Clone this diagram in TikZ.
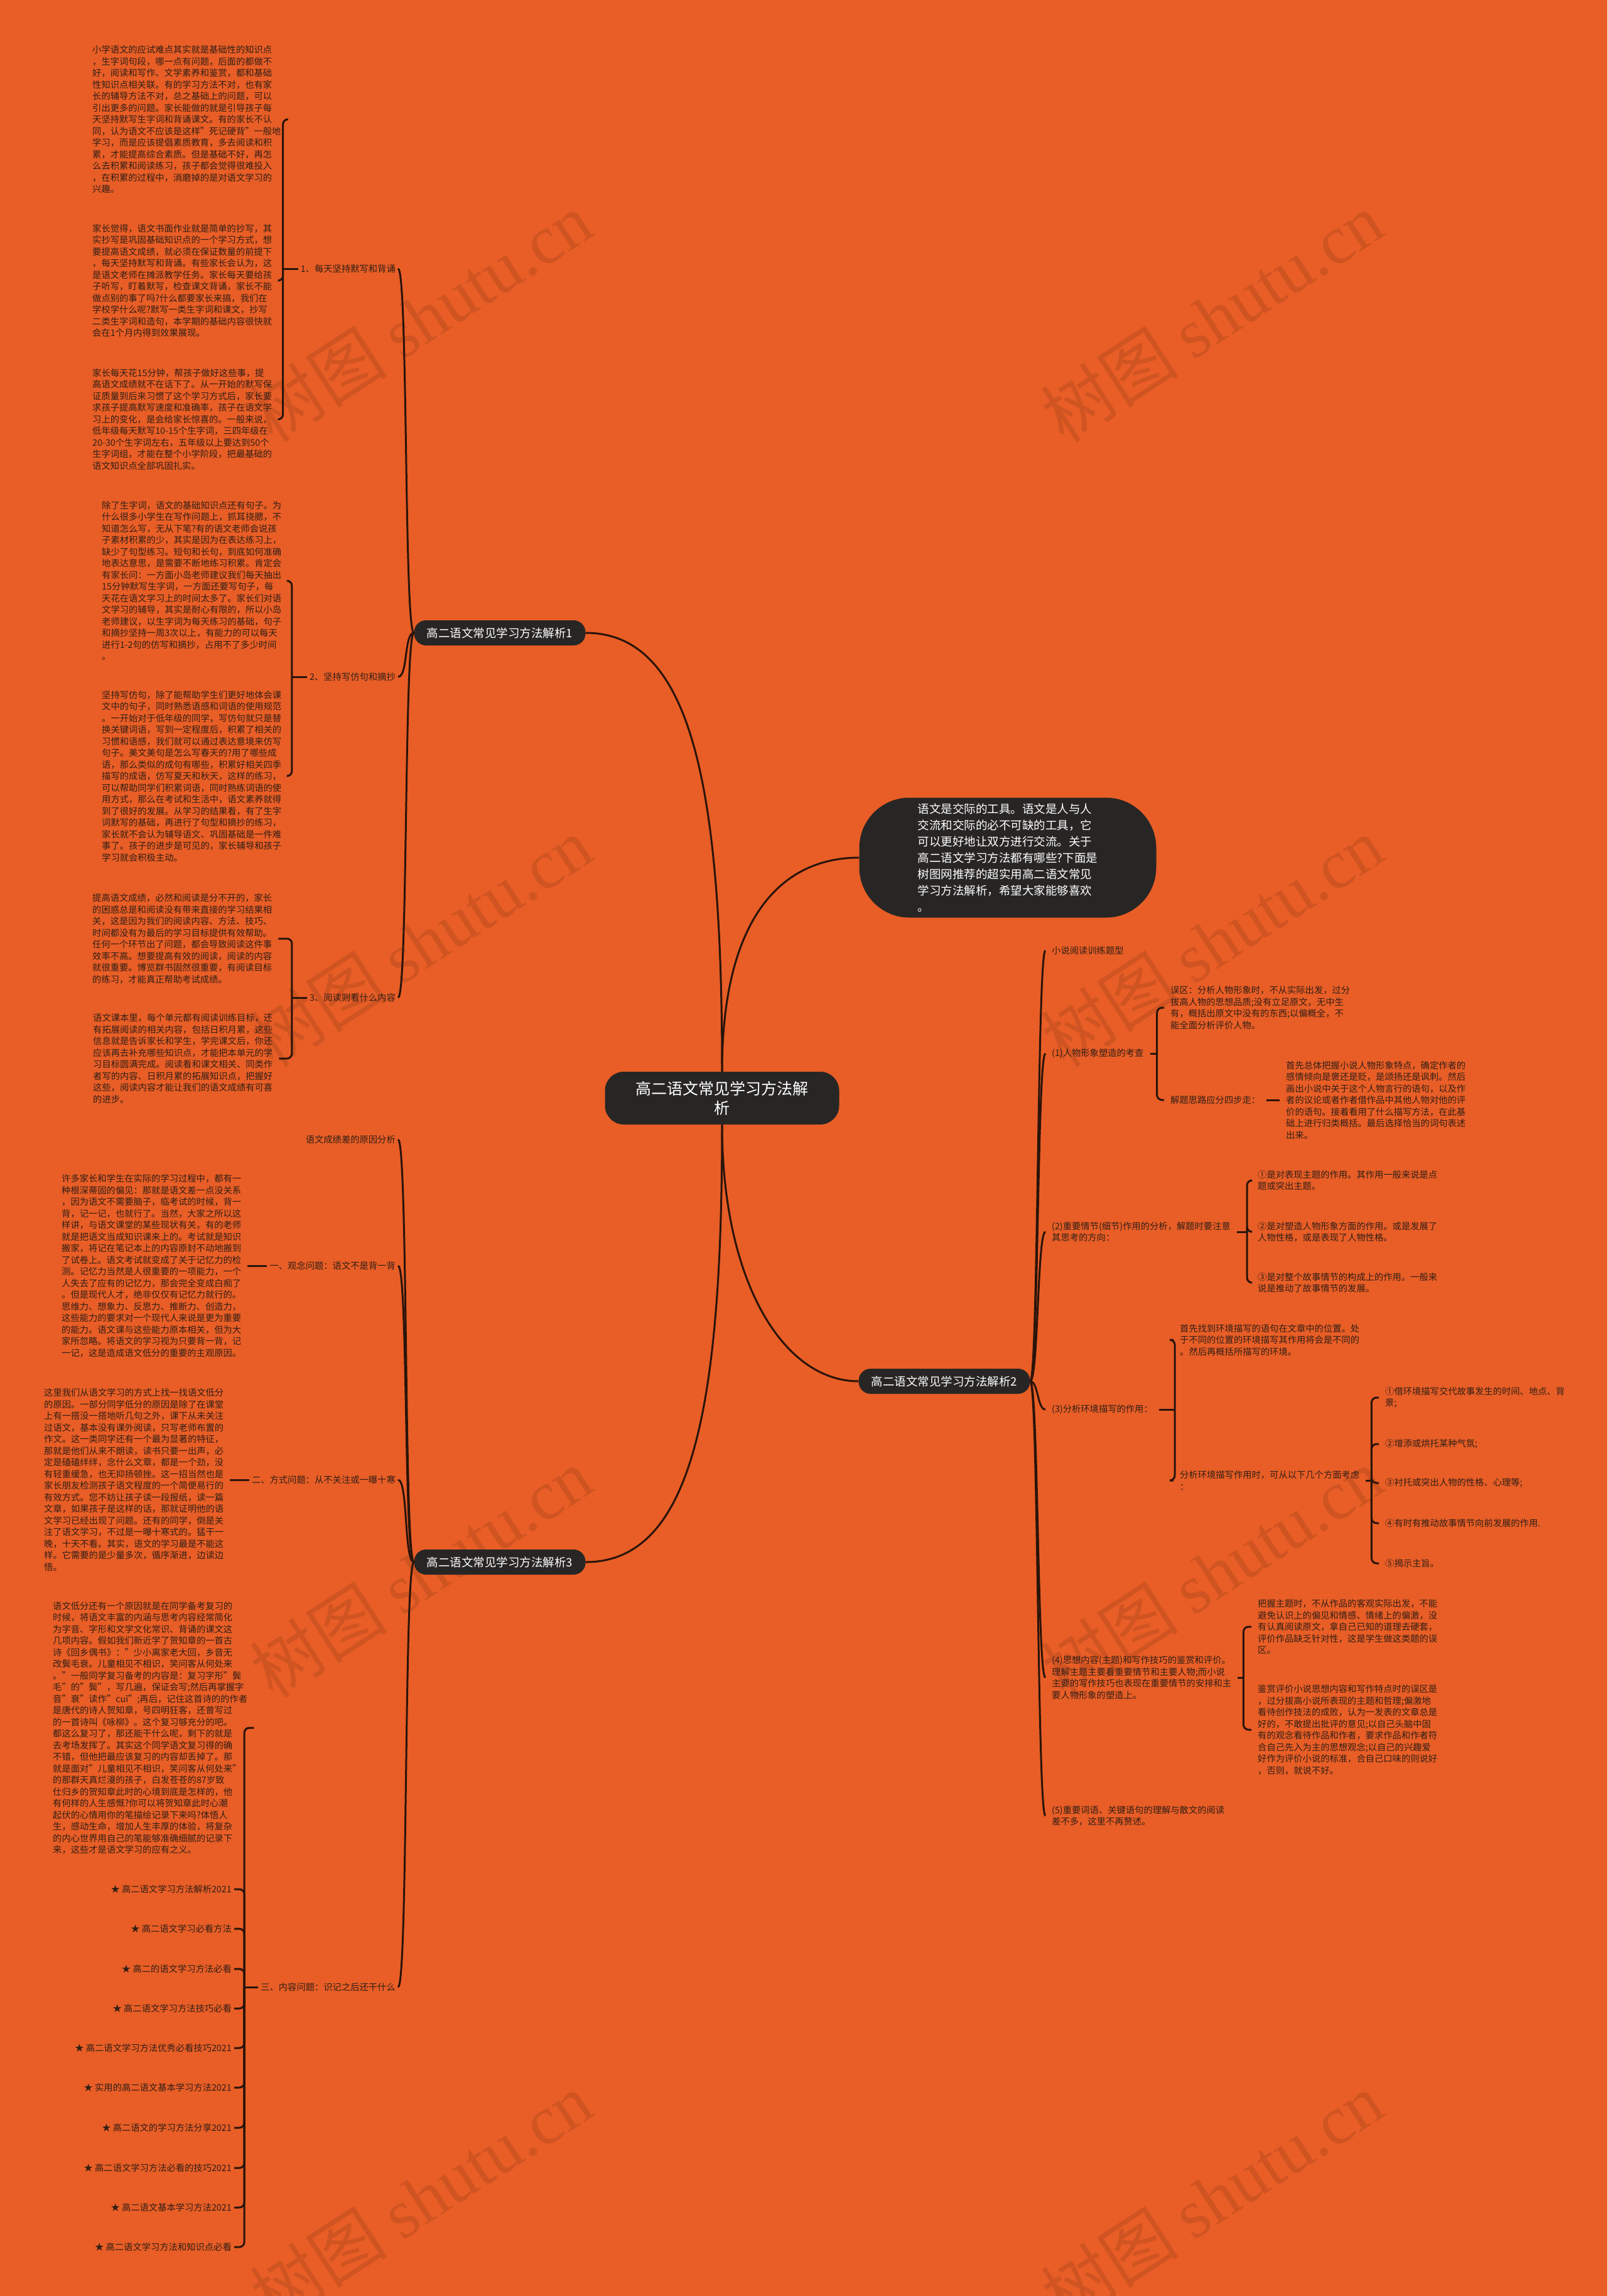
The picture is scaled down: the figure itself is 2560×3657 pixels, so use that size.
\documentclass[tikz,border=0pt]{standalone}
\usepackage{fontspec}
\setmainfont{Noto Sans CJK SC}
\newfontfamily\wmfont{Liberation Serif}
\definecolor{bgorange}{RGB}{232,94,38}
\definecolor{ink}{RGB}{50,30,22}
\definecolor{wire}{RGB}{42,20,10}
\definecolor{pillfill}{RGB}{40,38,37}
\newcommand{\txtfont}{\fontsize{14.3pt}{18.5pt}\selectfont}

\begin{document}
\begin{tikzpicture}[x=1pt, y=-1pt,
    para/.style={anchor=west, align=left, inner xsep=10pt, inner ysep=1pt, text=ink, font=\txtfont},
    tagl/.style={anchor=east, inner xsep=4pt, inner ysep=1pt, text=ink, font=\txtfont},
    pill/.style={fill=pillfill, text=white, rounded corners=19pt, minimum width=273pt, minimum height=40pt, inner sep=0pt, font=\fontsize{18.5pt}{22pt}\selectfont},
    link/.style={draw=wire, line width=3pt},
    brk/.style={draw=wire, line width=3pt, rounded corners=8pt}]
\useasboundingbox (0,0) rectangle (2560,3657);
\fill[bgorange] (0,0) rectangle (2560,3657);
\foreach \wx/\wy [count=\k] in {670/505,1930/505,670/1500,1930/1500,670/2505,1930/2505,670/3500,1930/3500}
    \node[rotate=33, text=black, text opacity=0.1, font=\fontsize{110pt}{110pt}\selectfont] (wm\k) at (\wx,\wy) {树图 {\wmfont shutu.cn}};

\node[pill, rounded corners=30pt, minimum width=373pt, minimum height=84pt, align=center, font=\fontsize{25pt}{31pt}\selectfont] (root) at (1150,1749) {高二语文常见学习方法解\\析};
\node[pill, rounded corners=80pt, minimum width=473pt, minimum height=191pt, align=left, font=\fontsize{18.5pt}{26pt}\selectfont] (intro) at (1605,1366) {语文是交际的工具。语文是人与人\\交流和交际的必不可缺的工具，它\\可以更好地让双方进行交流。关于\\高二语文学习方法都有哪些?下面是\\树图网推荐的超实用高二语文常见\\学习方法解析，希望大家能够喜欢\\。};
\node[pill] (sec1) at (796,1008) {高二语文常见学习方法解析1};
\node[pill] (sec2) at (1504,2200) {高二语文常见学习方法解析2};
\node[pill] (sec3) at (796,2488) {高二语文常见学习方法解析3};
\draw[link] (root.north) .. controls +(0,-450) and +(170,0) .. (sec1.east);
\draw[link] (root.north) .. controls +(0,-250) and +(-120,0) .. (intro.west);
\draw[link] (root.south) .. controls +(0,250) and +(-120,0) .. (sec2.west);
\draw[link] (root.south) .. controls +(0,450) and +(170,0) .. (sec3.east);

\node[tagl] (tip1) at (634,428) {1、每天坚持默写和背诵};
\node[tagl] (tip2) at (634,1078) {2、坚持写仿句和摘抄};
\node[tagl] (tip3) at (634,1589) {3、阅读则看什么内容};
\foreach \n in {tip1,tip2,tip3}
    \draw[link] (sec1.west) .. controls +(-16,0) and +(16,0) .. (\n.east);

\node[para] (p1) at (137,190) {小学语文的应试难点其实就是基础性的知识点\\，生字词句段，哪一点有问题，后面的都做不\\好，阅读和写作、文学素养和鉴赏，都和基础\\性知识点相关联。有的学习方法不对，也有家\\长的辅导方法不对，总之基础上的问题，可以\\引出更多的问题。家长能做的就是引导孩子每\\天坚持默写生字词和背诵课文。有的家长不认\\同，认为语文不应该是这样"死记硬背"一般地\\学习，而是应该提倡素质教育，多去阅读和积\\累，才能提高综合素质。但是基础不好，再怎\\么去积累和阅读练习，孩子都会觉得很难投入\\，在积累的过程中，消磨掉的是对语文学习的\\兴趣。};
\node[para] (p2) at (137,447) {家长觉得，语文书面作业就是简单的抄写，其\\实抄写是巩固基础知识点的一个学习方式，想\\要提高语文成绩，就必须在保证数量的前提下\\，每天坚持默写和背诵。有些家长会认为，这\\是语文老师在摊派教学任务。家长每天要给孩\\子听写，盯着默写，检查课文背诵，家长不能\\做点别的事了吗?什么都要家长来搞，我们在\\学校学什么呢?默写一类生字词和课文，抄写\\二类生字词和造句，本学期的基础内容很快就\\会在1个月内得到效果展现。};
\node[para] (p3) at (137,668) {家长每天花15分钟，帮孩子做好这些事，提\\高语文成绩就不在话下了。从一开始的默写保\\证质量到后来习惯了这个学习方式后，家长要\\求孩子提高默写速度和准确率，孩子在语文学\\习上的变化，是会给家长惊喜的。一般来说，\\低年级每天默写10-15个生字词，三四年级在\\20-30个生字词左右，五年级以上要达到50个\\生字词组，才能在整个小学阶段，把最基础的\\语文知识点全部巩固扎实。};
\node[para] (p4) at (152,925) {除了生字词，语文的基础知识点还有句子。为\\什么很多小学生在写作问题上，抓耳挠腮，不\\知道怎么写，无从下笔?有的语文老师会说孩\\子素材积累的少，其实是因为在表达练习上，\\缺少了句型练习。短句和长句，到底如何准确\\地表达意思，是需要不断地练习积累。肯定会\\有家长问：一方面小岛老师建议我们每天抽出\\15分钟默写生字词，一方面还要写句子，每\\天花在语文学习上的时间太多了。家长们对语\\文学习的辅导，其实是耐心有限的，所以小岛\\老师建议，以生字词为每天练习的基础，句子\\和摘抄坚持一周3次以上，有能力的可以每天\\进行1-2句的仿写和摘抄，占用不了多少时间\\。};
\node[para] (p5) at (152,1236) {坚持写仿句，除了能帮助学生们更好地体会课\\文中的句子，同时熟悉语感和词语的使用规范\\。一开始对于低年级的同学，写仿句就只是替\\换关键词语，写到一定程度后，积累了相关的\\习惯和语感，我们就可以通过表达意境来仿写\\句子。美文美句是怎么写春天的?用了哪些成\\语，那么类似的成句有哪些，积累好相关四季\\描写的成语，仿写夏天和秋天，这样的练习，\\可以帮助同学们积累词语，同时熟练词语的使\\用方式，那么在考试和生活中，语文素养就得\\到了很好的发展。从学习的结果看，有了生字\\词默写的基础，再进行了句型和摘抄的练习，\\家长就不会认为辅导语文、巩固基础是一件难\\事了。孩子的进步是可见的，家长辅导和孩子\\学习就会积极主动。};
\node[para] (p6) at (137,1495) {提高语文成绩，必然和阅读是分不开的，家长\\的困惑总是和阅读没有带来直接的学习结果相\\关，这是因为我们的阅读内容、方法、技巧、\\时间都没有为最后的学习目标提供有效帮助。\\任何一个环节出了问题，都会导致阅读这件事\\效率不高。想要提高有效的阅读，阅读的内容\\就很重要。博览群书固然很重要，有阅读目标\\的练习，才能真正帮助考试成绩。};
\node[para] (p7) at (138,1686) {语文课本里，每个单元都有阅读训练目标，还\\有拓展阅读的相关内容，包括日积月累，这些\\信息就是告诉家长和学生，学完课文后，你还\\应该再去补充哪些知识点，才能把本单元的学\\习目标圆满完成。阅读看和课文相关、同类作\\者写的内容、日积月累的拓展知识点，把握好\\这些，阅读内容才能让我们的语文成绩有可喜\\的进步。};
\draw[brk] (tip1.west) -- ++(-24,0);
\draw[brk] (tip2.west) -- ++(-24,0);
\draw[brk] (tip3.west) -- ++(-24,0);
\foreach \n in {p1,p2,p3}
    \draw[brk] ([xshift=-24pt]tip1.west) |- (\n.east);
\foreach \n in {p4,p5}
    \draw[brk] ([xshift=-24pt]tip2.west) |- (\n.east);
\foreach \n in {p6,p7}
    \draw[brk] ([xshift=-24pt]tip3.west) |- (\n.east);

\node[tagl] (why0) at (634,1815) {语文成绩差的原因分析};
\node[tagl] (why1) at (634,2016) {一、观念问题：语文不是背一背};
\node[tagl] (why2) at (634,2357) {二、方式问题：从不关注或一曝十寒};
\node[tagl] (why3) at (634,3165) {三、内容问题：识记之后还干什么};
\foreach \n in {why0,why1,why2,why3}
    \draw[link] (sec3.west) .. controls +(-16,0) and +(16,0) .. (\n.east);

\node[para] (p8) at (88,2016) {许多家长和学生在实际的学习过程中，都有一\\种根深蒂固的偏见：那就是语文差一点没关系\\，因为语文不需要脑子，临考试的时候，背一\\背，记一记，也就行了。当然，大家之所以这\\样讲，与语文课堂的某些现状有关，有的老师\\就是把语文当成知识课来上的。考试就是知识\\搬家，将记在笔记本上的内容原封不动地搬到\\了试卷上。语文考试就变成了关于记忆力的检\\测。记忆力当然是人很重要的一项能力，一个\\人失去了应有的记忆力，那会完全变成白痴了\\。但是现代人才，绝非仅仅有记忆力就行的。\\思维力、想象力、反思力、推断力、创造力，\\这些能力的要求对一个现代人来说是更为重要\\的能力。语文课与这些能力原本相关，但为大\\家所忽略。将语文的学习视为只要背一背，记\\一记，这是造成语文低分的重要的主观原因。};
\node[para] (p9) at (60,2357) {这里我们从语文学习的方式上找一找语文低分\\的原因。一部分同学低分的原因是除了在课堂\\上有一搭没一搭地听几句之外，课下从未关注\\过语文，基本没有课外阅读，只写老师布置的\\作文。这一类同学还有一个最为显著的特征，\\那就是他们从来不朗读，读书只要一出声，必\\定是磕磕绊绊，念什么文章，都是一个劲，没\\有轻重缓急，也无抑扬顿挫。这一招当然也是\\家长朋友检测孩子语文程度的一个简便易行的\\有效方式。您不妨让孩子读一段报纸，读一篇\\文章，如果孩子是这样的话，那就证明他的语\\文学习已经出现了问题。还有的同学，倒是关\\注了语文学习，不过是一曝十寒式的。猛干一\\晚，十天不看。其实，语文的学习最是不能这\\样。它需要的是少量多次，循序渐进，边读边\\悟。};
\node[para] (p10) at (74,2752) {语文低分还有一个原因就是在同学备考复习的\\时候，将语文丰富的内涵与思考内容经常简化\\为字音、字形和文学文化常识、背诵的课文这\\几项内容。假如我们新近学了贺知章的一首古\\诗《回乡偶书》："少小离家老大回，乡音无\\改鬓毛衰。儿童相见不相识，笑问客从何处来\\。"一般同学复习备考的内容是：复习字形"鬓\\毛"的"鬓"，写几遍，保证会写;然后再掌握字\\音"衰"读作"cuī";再后，记住这首诗的的作者\\是唐代的诗人贺知章，号四明狂客，还曾写过\\的一首诗叫《咏柳》。这个复习够充分的吧。\\都这么复习了，那还能干什么呢，剩下的就是\\去考场发挥了。其实这个同学语文复习得的确\\不错，但他把最应该复习的内容却丢掉了。那\\就是面对"儿童相见不相识，笑问客从何处来"\\的那群天真烂漫的孩子，白发苍苍的87岁致\\仕归乡的贺知章此时的心境到底是怎样的，他\\有何样的人生感慨?你可以将贺知章此时心潮\\起伏的心情用你的笔描绘记录下来吗?体悟人\\生，感动生命，增加人生丰厚的体验，将复杂\\的内心世界用自己的笔能够准确细腻的记录下\\来，这些才是语文学习的应有之义。};
\draw[link] (p8.east) -- (why1.west);
\draw[link] (p9.east) -- (why2.west);
\draw[brk] (why3.west) -- ++(-22,0);
\draw[brk] ([xshift=-22pt]why3.west) |- (p10.east);
\foreach \i/\y/\lab in {1/3009/★ 高二语文学习方法解析2021, 2/3072/★ 高二语文学习必看方法, 3/3136/★ 高二的语文学习方法必看, 4/3199/★ 高二语文学习方法技巧必看, 5/3262/★ 高二语文学习方法优秀必看技巧2021, 6/3325/★ 实用的高二语文基本学习方法2021, 7/3389/★ 高二语文的学习方法分享2021, 8/3453/★ 高二语文学习方法必看的技巧2021, 9/3516/★ 高二语文基本学习方法2021, 10/3579/★ 高二语文学习方法和知识点必看} {
    \node[tagl] (art\i) at (373,\y) {\lab};
    \draw[brk] ([xshift=-22pt]why3.west) |- (art\i.east);
}

\node[para] (r0) at (1665,1514) {小说阅读训练题型};
\node[para] (r1) at (1665,1678) {(1)人物形象塑造的考查};
\node[para] (r2) at (1665,1962) {(2)重要情节(细节)作用的分析，解题时要注意\\其思考的方向：};
\node[para] (r3) at (1665,2245) {(3)分析环境描写的作用：};
\node[para] (r4) at (1665,2672) {(4)思想内容(主题)和写作技巧的鉴赏和评价。\\理解主题主要看重要情节和主要人物;而小说\\主要的写作技巧也表现在重要情节的安排和主\\要人物形象的塑造上。};
\node[para] (r5) at (1665,2892) {(5)重要词语、关键语句的理解与散文的阅读\\差不多，这里不再赘述。};
\foreach \n in {r0,r1,r2,r3,r4,r5}
    \draw[link] (sec2.east) .. controls +(13,0) and +(-13,0) .. (\n.west);

\node[para] (r1a) at (1854,1605) {误区：分析人物形象时，不从实际出发，过分\\拔高人物的思想品质;没有立足原文，无中生\\有，概括出原文中没有的东西;以偏概全，不\\能全面分析评价人物。};
\node[para] (r1b) at (1854,1752) {解题思路应分四步走：};
\node[para] (r1c) at (2038,1752) {首先总体把握小说人物形象特点，确定作者的\\感情倾向是褒还是贬，是颂扬还是讽刺。然后\\画出小说中关于这个人物言行的语句，以及作\\者的议论或者作者借作品中其他人物对他的评\\价的语句。接着看用了什么描写方法，在此基\\础上进行归类概括。最后选择恰当的词句表述\\出来。};
\draw[brk] (r1.east) -- ++(11,0);
\foreach \n in {r1a,r1b}
    \draw[brk] ([xshift=11pt]r1.east) |- (\n.west);
\draw[link] (r1b.east) -- (r1c.west);

\node[para] (r2a) at (1993,1880) {①是对表现主题的作用。其作用一般来说是点\\题或突出主题。};
\node[para] (r2b) at (1993,1962) {②是对塑造人物形象方面的作用。或是发展了\\人物性格，或是表现了人物性格。};
\node[para] (r2c) at (1993,2043) {③是对整个故事情节的构成上的作用。一般来\\说是推动了故事情节的发展。};
\draw[brk] (r2.east) -- ++(16,0);
\foreach \n in {r2a,r2b,r2c}
    \draw[brk] ([xshift=16pt]r2.east) |- (\n.west);

\node[para] (r3a) at (1869,2134) {首先找到环境描写的语句在文章中的位置。处\\于不同的位置的环境描写其作用将会是不同的\\。然后再概括所描写的环境。};
\node[para] (r3b) at (1869,2358) {分析环境描写作用时，可从以下几个方面考虑\\：};
\draw[brk] (r3.east) -- ++(25,0);
\foreach \n in {r3a,r3b}
    \draw[brk] ([xshift=25pt]r3.east) |- (\n.west);
\foreach \i/\y/\lab in {1/2226/{①借环境描写交代故事发生的时间、地点、背\\景;}, 2/2300/②增添或烘托某种气氛;, 3/2362/③衬托或突出人物的性格、心理等;, 4/2426/④有时有推动故事情节向前发展的作用., 5/2490/⑤揭示主旨。} {
    \node[para] (env\i) at (2196,\y) {\lab};
    \draw[brk] ([xshift=9pt]r3b.east) |- (env\i.west);
}
\draw[brk] (r3b.east) -- ++(9,0);

\node[para] (r4a) at (1993,2591) {把握主题时，不从作品的客观实际出发，不能\\避免认识上的偏见和情感、情绪上的偏激，没\\有认真阅读原文，拿自己已知的道理去硬套，\\评价作品缺乏针对性，这是学生做这类题的误\\区。};
\node[para] (r4b) at (1993,2755) {鉴赏评价小说思想内容和写作特点时的误区是\\，过分拔高小说所表现的主题和哲理;偏激地\\看待创作技法的成败，认为一发表的文章总是\\好的，不敢提出批评的意见;以自己头脑中固\\有的观念看待作品和作者，要求作品和作者符\\合自己先入为主的思想观念;以自己的兴趣爱\\好作为评价小说的标准，合自己口味的则说好\\，否则，就说不好。};
\draw[brk] (r4.east) -- ++(9,0);
\foreach \n in {r4a,r4b}
    \draw[brk] ([xshift=9pt]r4.east) |- (\n.west);
\end{tikzpicture}
\end{document}
